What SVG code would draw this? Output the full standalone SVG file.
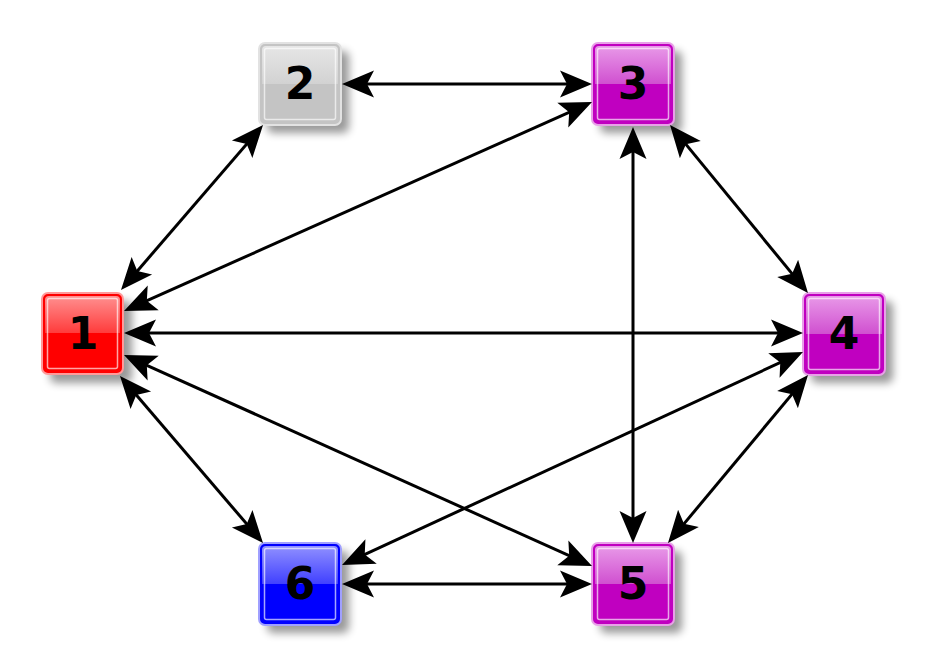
<svg xmlns="http://www.w3.org/2000/svg" xmlns:xlink="http://www.w3.org/1999/xlink" width="928" height="667" viewBox="0 0 928 667">
<defs>
  <style>
    .shadow { fill: #000; opacity: 0.4; filter: url(#blur); }
    .inner { fill: none; stroke: #fff; stroke-opacity: 0.65; stroke-width: 1.5; }
    .lbl { font-family: "DejaVu Sans", sans-serif; font-weight: bold; font-size: 44px; text-anchor: middle; fill: #000; }
    .edge { stroke: #000; stroke-width: 3; fill: none; marker-start: url(#arr); marker-end: url(#arr); }
  </style>
  <filter id="blur" x="-20%" y="-20%" width="140%" height="140%">
    <feGaussianBlur stdDeviation="4"/>
  </filter>
  <marker id="arr" markerUnits="userSpaceOnUse" orient="auto-start-reverse" markerWidth="40" markerHeight="30" refX="0" refY="0" viewBox="-25 -15 40 30" overflow="visible">
    <path d="M8,0 L-24,-13.5 L-17,0 L-24,13.5 Z" fill="#000"/>
  </marker>
  <linearGradient id="gRed" x1="0" y1="0" x2="0" y2="1">
    <stop offset="0" stop-color="#ff9090"/>
    <stop offset="0.5" stop-color="#ff3a3a"/>
    <stop offset="0.5" stop-color="#ff0000"/>
    <stop offset="1" stop-color="#ff0000"/>
  </linearGradient>
  <linearGradient id="gGray" x1="0" y1="0" x2="0" y2="1">
    <stop offset="0" stop-color="#e6e6e6"/>
    <stop offset="0.5" stop-color="#d2d2d2"/>
    <stop offset="0.5" stop-color="#c4c4c4"/>
    <stop offset="1" stop-color="#c4c4c4"/>
  </linearGradient>
  <linearGradient id="gMag" x1="0" y1="0" x2="0" y2="1">
    <stop offset="0" stop-color="#e899e8"/>
    <stop offset="0.5" stop-color="#d050d0"/>
    <stop offset="0.5" stop-color="#c000c0"/>
    <stop offset="1" stop-color="#c000c0"/>
  </linearGradient>
  <linearGradient id="gBlue" x1="0" y1="0" x2="0" y2="1">
    <stop offset="0" stop-color="#9090ff"/>
    <stop offset="0.5" stop-color="#4040ff"/>
    <stop offset="0.5" stop-color="#0000ff"/>
    <stop offset="1" stop-color="#0000ff"/>
  </linearGradient>
</defs>
<rect width="928" height="667" fill="#fff"/>

<g id="node1">
  <rect class="shadow" x="50" y="301" width="82" height="82" rx="6"/>
  <rect x="42" y="293" width="81" height="81" rx="6" fill="#ff0000" stroke="#ff9a9a" stroke-width="2"/>
  <rect x="45" y="296" width="75" height="75" rx="4" fill="url(#gRed)"/>
  <rect class="inner" x="47.5" y="298.5" width="70" height="70" rx="2"/>
  <text class="lbl" x="83" y="349">1</text>
</g>
<g id="node2">
  <rect class="shadow" x="267" y="51" width="82" height="82" rx="6"/>
  <rect x="259" y="43" width="82" height="82" rx="6" fill="#c4c4c4" stroke="#e2e2e2" stroke-width="2"/>
  <rect x="262" y="46" width="76" height="76" rx="4" fill="url(#gGray)"/>
  <rect class="inner" x="264.5" y="48.5" width="71" height="71" rx="2"/>
  <text class="lbl" x="300" y="99">2</text>
</g>
<g id="node3">
  <rect class="shadow" x="600" y="51" width="82" height="82" rx="6"/>
  <rect x="592" y="43" width="82" height="82" rx="6" fill="#c000c0" stroke="#e8a0e8" stroke-width="2"/>
  <rect x="595" y="46" width="76" height="76" rx="4" fill="url(#gMag)"/>
  <rect class="inner" x="597.5" y="48.5" width="71" height="71" rx="2"/>
  <text class="lbl" x="633" y="99">3</text>
</g>
<g id="node4">
  <rect class="shadow" x="811" y="301" width="82" height="82" rx="6"/>
  <rect x="803" y="293" width="82" height="82" rx="6" fill="#c000c0" stroke="#e8a0e8" stroke-width="2"/>
  <rect x="806" y="296" width="76" height="76" rx="4" fill="url(#gMag)"/>
  <rect class="inner" x="808.5" y="298.5" width="71" height="71" rx="2"/>
  <text class="lbl" x="844" y="349">4</text>
</g>
<g id="node5">
  <rect class="shadow" x="600" y="551" width="82" height="82" rx="6"/>
  <rect x="592" y="543" width="82" height="82" rx="6" fill="#c000c0" stroke="#e8a0e8" stroke-width="2"/>
  <rect x="595" y="546" width="76" height="76" rx="4" fill="url(#gMag)"/>
  <rect class="inner" x="597.5" y="548.5" width="71" height="71" rx="2"/>
  <text class="lbl" x="633" y="599">5</text>
</g>
<g id="node6">
  <rect class="shadow" x="267" y="551" width="82" height="82" rx="6"/>
  <rect x="259" y="543" width="82" height="82" rx="6" fill="#0000ff" stroke="#a0a0ff" stroke-width="2"/>
  <rect x="262" y="546" width="76" height="76" rx="4" fill="url(#gBlue)"/>
  <rect class="inner" x="264.5" y="548.5" width="71" height="71" rx="2"/>
  <text class="lbl" x="300" y="599">6</text>
</g>

<g id="edges">
  <line class="edge" x1="126.2" y1="283.9" x2="257.8" y2="131.1"/>
  <line class="edge" x1="131.3" y1="307.7" x2="584.7" y2="105.3"/>
  <line class="edge" x1="132" y1="333" x2="795" y2="333"/>
  <line class="edge" x1="131.3" y1="358.3" x2="584.7" y2="562.7"/>
  <line class="edge" x1="125.2" y1="382.1" x2="257.8" y2="536.9"/>
  <line class="edge" x1="350" y1="84" x2="584" y2="84"/>
  <line class="edge" x1="675.1" y1="131.1" x2="802.9" y2="286.9"/>
  <line class="edge" x1="633" y1="135" x2="633" y2="535"/>
  <line class="edge" x1="802.9" y1="381.1" x2="673.1" y2="536.9"/>
  <line class="edge" x1="795.7" y1="355.4" x2="349.3" y2="561.6"/>
  <line class="edge" x1="350" y1="584" x2="584" y2="584"/>
</g>
</svg>
